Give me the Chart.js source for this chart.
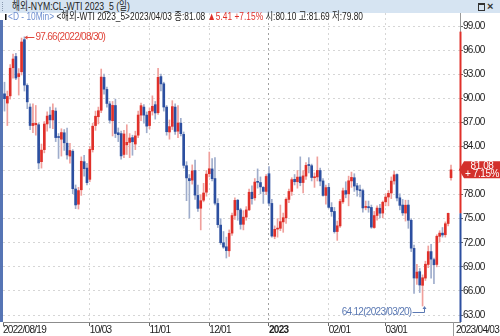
<!DOCTYPE html>
<html lang="ko">
<head>
<meta charset="UTF-8" />
<title>해외-NYM:CL-WTI 2023_5 (일)</title>
<script src="https://cdn.jsdelivr.net/npm/chart.js"></script>
<style>
  html, body { margin: 0; padding: 0; background: #fff; }
  body { width: 500px; height: 336px; position: relative; overflow: hidden;
         font-family: 'Liberation Sans', 'Noto Sans CJK KR', sans-serif; font-size: 10px; }
  canvas { position: absolute; left: 0; top: 0; }
  #titlebar { position: absolute; left: 0; top: 0; width: 500px; height: 13px; background: #d6e4f2; }
  #grip { position: absolute; left: 2px; top: 2px; width: 1px; height: 9px; border-left: 1px dotted #8a9ab0; }
  #ttl { position: absolute; left: 12px; top: 0; line-height: 13px; font-size: 11px; color: #222; white-space: nowrap; transform-origin: 0 50%; }
  #maxbtn { position: absolute; left: 478px; top: 3px; width: 5px; height: 5px; border: 1px solid #333; border-top-width: 2px; }
  #closebtn { position: absolute; left: 487px; top: 0; line-height: 13px; font-size: 11px; font-weight: bold; color: #333; }
  #info { position: absolute; left: 5px; top: 11px; line-height: 11px; font-size: 11px; white-space: nowrap; color: #222; transform-origin: 0 50%; }
  #info .mark { display: inline-block; width: 2px; height: 6px; background: #111; margin-right: 2px; }
  #info .iv { color: #6f8fd0; }
  #info .up { color: #e0302a; }
</style>
</head>
<body>
<canvas id="chart" width="500" height="336"></canvas>
<div id="titlebar"><span id="grip"></span><span id="ttl">해외-NYM:CL-WTI 2023_5 (일)</span><span id="maxbtn"></span><span id="closebtn">×</span></div>
<div id="info"></div>

<script>
// daily candles, 2022/08/19 .. 2023/04/03
const dates = [
  '2022/08/19','2022/08/22','2022/08/23','2022/08/24','2022/08/25','2022/08/26','2022/08/29','2022/08/30','2022/08/31',
  '2022/09/01','2022/09/02','2022/09/06','2022/09/07','2022/09/08','2022/09/09','2022/09/12','2022/09/13','2022/09/14','2022/09/15','2022/09/16','2022/09/19','2022/09/20','2022/09/21','2022/09/22','2022/09/23','2022/09/26','2022/09/27','2022/09/28','2022/09/29','2022/09/30',
  '2022/10/03','2022/10/04','2022/10/05','2022/10/06','2022/10/07','2022/10/10','2022/10/11','2022/10/12','2022/10/13','2022/10/14','2022/10/17','2022/10/18','2022/10/19','2022/10/20','2022/10/21','2022/10/24','2022/10/25','2022/10/26','2022/10/27','2022/10/28','2022/10/31',
  '2022/11/01','2022/11/02','2022/11/03','2022/11/04','2022/11/07','2022/11/08','2022/11/09','2022/11/10','2022/11/11','2022/11/14','2022/11/15','2022/11/16','2022/11/17','2022/11/18','2022/11/21','2022/11/22','2022/11/23','2022/11/25','2022/11/28','2022/11/29','2022/11/30',
  '2022/12/01','2022/12/02','2022/12/05','2022/12/06','2022/12/07','2022/12/08','2022/12/09','2022/12/12','2022/12/13','2022/12/14','2022/12/15','2022/12/16','2022/12/19','2022/12/20','2022/12/21','2022/12/22','2022/12/23','2022/12/27','2022/12/28','2022/12/29','2022/12/30',
  '2023/01/03','2023/01/04','2023/01/05','2023/01/06','2023/01/09','2023/01/10','2023/01/11','2023/01/12','2023/01/13','2023/01/16','2023/01/17','2023/01/18','2023/01/19','2023/01/20','2023/01/23','2023/01/24','2023/01/25','2023/01/26','2023/01/27','2023/01/30','2023/01/31',
  '2023/02/01','2023/02/02','2023/02/03','2023/02/06','2023/02/07','2023/02/08','2023/02/09','2023/02/10','2023/02/13','2023/02/14','2023/02/15','2023/02/16','2023/02/17','2023/02/20','2023/02/21','2023/02/22','2023/02/23','2023/02/24','2023/02/27','2023/02/28',
  '2023/03/01','2023/03/02','2023/03/03','2023/03/06','2023/03/07','2023/03/08','2023/03/09','2023/03/10','2023/03/13','2023/03/14','2023/03/15','2023/03/16','2023/03/17','2023/03/20','2023/03/21','2023/03/22','2023/03/23','2023/03/24','2023/03/27','2023/03/28','2023/03/29','2023/03/30','2023/03/31',
  '2023/04/03'
];

const opens = [
  90.55, 89.40, 90.30, 93.80, 95.20, 92.70, 93.30, 97.30, 91.60,
  88.90, 86.60, 86.70, 86.70, 82.10, 83.60, 86.80, 87.90, 87.30, 88.40, 85.20, 84.90, 85.70, 84.40, 82.80, 83.40, 78.70, 76.80, 78.60, 82.10, 81.30,
  79.90, 83.60, 86.60, 87.70, 88.50, 92.60, 91.10, 89.30, 87.20, 89.10, 85.70, 85.60, 83.00, 84.20, 84.50, 85.10, 84.30, 85.40, 87.90, 88.90, 87.90,
  86.60, 88.40, 89.20, 88.20, 92.70, 91.80, 88.90, 85.80, 86.50, 88.90, 85.90, 86.90, 85.50, 81.60, 80.00, 79.80, 81.00, 77.90, 76.30, 77.30, 78.30,
  80.60, 81.20, 80.00, 76.90, 74.20, 72.00, 71.50, 71.00, 73.20, 75.40, 77.30, 76.10, 74.30, 75.20, 76.10, 78.30, 77.60, 79.60, 79.50, 78.90, 78.40,
  80.60, 76.90, 72.80, 73.70, 73.80, 74.60, 75.10, 77.40, 78.40, 79.90, 79.60, 80.20, 79.50, 80.30, 81.70, 81.60, 80.10, 80.20, 81.00, 79.70, 77.90,
  78.90, 76.40, 75.90, 73.40, 74.10, 77.10, 78.50, 78.10, 79.70, 80.10, 79.10, 78.60, 78.50, 76.40, 76.50, 76.40, 73.90, 75.40, 76.30, 75.70,
  77.10, 77.70, 78.20, 79.70, 80.50, 77.60, 76.70, 75.70, 76.70, 74.80, 71.30, 67.60, 68.40, 66.70, 67.60, 69.30, 70.90, 69.90, 69.30, 72.80, 73.20, 73.00, 74.40,
  80.10
];
const highs = [
  92.00, 90.90, 94.20, 95.50, 95.60, 93.70, 97.50, 97.66, 91.80,
  89.30, 89.30, 89.10, 86.90, 84.30, 87.10, 88.30, 88.90, 89.30, 88.80, 85.60, 86.20, 86.10, 86.30, 84.40, 83.60, 79.20, 78.90, 82.70, 82.90, 81.90,
  84.00, 86.90, 88.40, 88.90, 93.64, 93.00, 91.40, 89.60, 89.60, 89.90, 86.30, 85.90, 86.00, 86.70, 85.60, 85.40, 85.90, 88.40, 89.40, 89.20, 88.30,
  88.80, 90.30, 89.60, 93.74, 93.00, 92.00, 89.10, 87.30, 89.70, 89.30, 89.10, 87.50, 85.80, 82.10, 80.50, 81.70, 82.30, 79.20, 78.00, 79.40, 81.00,
  83.30, 82.50, 82.60, 77.50, 75.00, 73.40, 72.70, 73.60, 75.70, 77.60, 77.40, 76.30, 76.00, 76.50, 78.70, 79.10, 80.00, 81.20, 80.20, 79.00, 80.50,
  81.50, 77.40, 74.10, 75.00, 76.70, 75.70, 77.60, 78.70, 80.10, 80.50, 81.00, 82.70, 81.00, 82.00, 82.60, 81.80, 80.70, 82.70, 81.30, 80.00, 79.20,
  79.40, 77.00, 76.40, 74.70, 77.40, 78.80, 79.60, 80.30, 80.80, 80.60, 79.40, 79.20, 78.70, 77.20, 77.20, 76.70, 75.90, 76.60, 76.80, 77.20,
  78.10, 78.50, 80.20, 80.90, 80.60, 78.10, 77.40, 77.30, 77.30, 75.00, 71.70, 69.30, 68.80, 68.00, 69.70, 71.60, 71.80, 70.10, 73.00, 73.50, 73.90, 74.60, 75.70,
  81.69
];
const lows = [
  88.40, 86.60, 89.90, 92.50, 92.30, 90.40, 92.90, 90.90, 88.70,
  86.10, 85.70, 85.40, 81.20, 81.30, 83.20, 85.90, 86.30, 86.20, 84.60, 82.50, 82.80, 83.50, 82.40, 81.90, 78.10, 76.25, 76.20, 77.90, 80.30, 79.20,
  79.60, 83.30, 86.00, 86.80, 88.20, 90.50, 88.90, 86.90, 85.30, 85.10, 84.60, 82.40, 82.60, 83.00, 82.60, 82.90, 83.60, 85.10, 87.20, 86.90, 85.70,
  86.20, 87.90, 87.40, 88.00, 90.90, 88.40, 85.40, 84.90, 86.10, 85.50, 85.10, 85.30, 81.30, 77.24, 75.08, 79.30, 77.40, 75.90, 73.60, 77.10, 77.80,
  80.20, 79.70, 76.70, 73.90, 71.80, 71.30, 70.10, 70.30, 72.90, 74.90, 74.80, 73.70, 73.60, 74.80, 76.00, 76.80, 77.30, 78.80, 78.10, 76.90, 78.00,
  76.60, 72.70, 72.50, 72.70, 73.50, 73.30, 74.40, 77.00, 77.90, 79.20, 78.80, 79.10, 78.20, 79.90, 80.70, 79.70, 78.90, 79.70, 79.10, 77.80, 76.80,
  76.30, 75.30, 73.20, 72.30, 73.90, 76.90, 77.60, 76.60, 78.90, 78.40, 77.80, 77.70, 75.80, 76.10, 75.80, 73.80, 73.80, 74.80, 75.10, 75.10,
  76.60, 76.60, 77.50, 79.30, 77.20, 76.10, 75.40, 74.70, 73.80, 70.90, 65.70, 66.80, 65.80, 64.12, 67.30, 68.90, 67.60, 66.90, 69.00, 72.10, 72.70, 72.70, 74.10,
  79.80
];
const closes = [
  89.95, 90.23, 93.74, 94.89, 92.52, 93.06, 97.01, 91.64, 89.55,
  86.61, 86.87, 86.88, 81.94, 83.54, 86.79, 87.78, 87.31, 88.48, 85.10, 85.11, 85.73, 84.45, 82.94, 83.49, 78.74, 76.71, 78.50, 82.15, 81.23, 79.49,
  83.63, 86.52, 87.76, 88.45, 92.64, 91.13, 89.35, 87.27, 89.11, 85.61, 85.46, 82.82, 85.55, 84.51, 85.05, 84.58, 85.32, 87.91, 89.08, 87.90, 86.53,
  88.37, 89.00, 88.17, 92.61, 91.79, 88.91, 85.83, 86.47, 88.96, 85.87, 86.92, 85.59, 81.64, 80.08, 79.73, 80.95, 77.94, 76.28, 77.24, 78.20, 80.55,
  81.22, 79.98, 76.93, 74.25, 72.01, 71.46, 71.02, 73.17, 75.39, 77.28, 76.11, 74.29, 75.19, 76.09, 78.29, 77.49, 79.56, 79.53, 78.96, 78.40, 80.26,
  76.93, 72.84, 73.67, 73.77, 74.63, 75.12, 77.41, 78.39, 79.86, 79.60, 80.18, 79.48, 80.33, 81.64, 81.62, 80.13, 80.15, 81.01, 79.68, 77.90, 78.87,
  76.41, 75.88, 73.39, 74.11, 77.14, 78.47, 78.06, 79.72, 80.14, 79.06, 78.59, 78.49, 76.34, 76.50, 76.36, 73.95, 75.39, 76.32, 75.68, 77.05,
  77.69, 78.16, 79.68, 80.46, 77.58, 76.66, 75.72, 76.68, 74.80, 71.33, 67.61, 68.35, 66.74, 67.64, 69.33, 70.90, 69.96, 69.26, 72.81, 73.20, 72.97, 74.37, 75.67,
  81.08
];

const xTickDates = ['2022/10/03', '2022/11/01', '2022/12/01', '2023/01/03', '2023/02/01', '2023/03/01'];
const xTickText  = ['10/03', '11/01', '12/01', '2023', '02/01', '03/01'];
const yTicks = [63, 66, 69, 72, 75, 78, 81, 84, 87, 90, 93, 96, 99];
const yMin = 62.13, yMax = 100.62;
const xMin = -0.53, xMax = 160.16, xEnd = 158.75;
const limitTop = 98.3;   // where the red part of the price axis starts

const FONT = "'Liberation Sans', 'Noto Sans CJK KR', sans-serif";
const UP = '#e0302a', UP_WICK = '#f0a09c', DN = '#2c4fa0', DN_WICK = '#9fadcc';

const last = closes.length - 1;
const prevClose = closes[last - 1];
const change = closes[last] - prevClose;
const pct = change / prevClose * 100;
const isUp = i => closes[i] >= opens[i];
const tickIdx = xTickDates.map(d => dates.indexOf(d));
const edgeTick = c => c.tick && (c.tick.value === xMin || c.tick.value === xEnd);

// header line
const info = document.getElementById('info');
info.innerHTML =
  '<span class="mark"></span><span class="iv">&lt;D - 10Min&gt;</span> ' +
  '&lt;해외-WTI 2023_5&gt;' + dates[last] + ' 종:' + closes[last].toFixed(2) +
  ' <span class="up">▲' + change.toFixed(2) + ' +' + pct.toFixed(2) + '%</span> ' +
  '시:' + opens[last].toFixed(2) + ' 고:' + highs[last].toFixed(2) + ' 저:' + lows[last].toFixed(2);
function fitWidth(el, w) {
  el.style.transform = 'scaleX(' + (w / el.getBoundingClientRect().width) + ')';
}
fitWidth(info, 358);
fitWidth(document.getElementById('ttl'), 118);

const htsDecor = {
  id: 'htsDecor',
  beforeDraw(chart) {
    chart.ctx.letterSpacing = '-0.7px';
  },
  afterDraw(chart) {
    const {ctx, chartArea: a, scales: {x, y}} = chart;
    ctx.save();

    // left selection strip
    ctx.fillStyle = '#5675b5';
    ctx.fillRect(0, 20, 3, a.bottom - 20);

    // price axis line: gray, red above previous close, blue below
    const ax = a.right;
    ctx.lineWidth = 1;
    ctx.strokeStyle = '#9a9a9a';
    ctx.beginPath(); ctx.moveTo(ax + 0.5, a.top); ctx.lineTo(ax + 0.5, a.bottom); ctx.stroke();
    const yLim = y.getPixelForValue(limitTop), yPrev = y.getPixelForValue(prevClose);
    ctx.lineWidth = 2;
    ctx.strokeStyle = UP;
    ctx.beginPath(); ctx.moveTo(ax + 0.5, yLim); ctx.lineTo(ax + 0.5, yPrev); ctx.stroke();
    ctx.strokeStyle = DN;
    ctx.beginPath(); ctx.moveTo(ax + 0.5, yPrev); ctx.lineTo(ax + 0.5, a.bottom); ctx.stroke();

    // separator in the date strip, just left of the last date
    ctx.lineWidth = 1;
    ctx.strokeStyle = '#9a9a9a';
    const sx = Math.floor(x.getPixelForValue(xEnd)) - 1.5;
    ctx.beginPath(); ctx.moveTo(sx, a.bottom); ctx.lineTo(sx, chart.height); ctx.stroke();

    // last price tag
    const py = y.getPixelForValue(closes[last]);
    ctx.fillStyle = '#d3302b';
    ctx.beginPath();
    ctx.moveTo(ax - 1, py);
    ctx.lineTo(ax + 4, py - 8.5);
    ctx.lineTo(chart.width, py - 8.5);
    ctx.lineTo(chart.width, py + 8.5);
    ctx.lineTo(ax + 4, py + 8.5);
    ctx.closePath();
    ctx.fill();
    ctx.fillStyle = '#fff';
    ctx.font = '10px ' + FONT;
    ctx.letterSpacing = '-0.4px';
    ctx.textAlign = 'center';
    ctx.textBaseline = 'middle';
    ctx.fillText(closes[last].toFixed(2), ax + 22, py - 4);
    ctx.fillText('+ ' + pct.toFixed(2) + '%', ax + 22, py + 4.5);
    ctx.letterSpacing = '-0.7px';

    // highest high
    const iMax = highs.indexOf(Math.max(...highs));
    const hx = x.getPixelForValue(iMax), hy = Math.round(y.getPixelForValue(highs[iMax])) + 0.5;
    ctx.strokeStyle = ctx.fillStyle = '#e0463c';
    ctx.beginPath(); ctx.moveTo(hx + 2, hy); ctx.lineTo(hx + 10, hy); ctx.stroke();
    ctx.beginPath(); ctx.moveTo(hx, hy); ctx.lineTo(hx + 3, hy - 2); ctx.lineTo(hx + 3, hy + 2); ctx.closePath(); ctx.fill();
    ctx.textAlign = 'left';
    ctx.fillText(highs[iMax].toFixed(2) + '(' + dates[iMax] + ')', hx + 11, hy);

    // lowest low
    const iMin = lows.indexOf(Math.min(...lows));
    const lx = Math.round(x.getPixelForValue(iMin)) + 0.5, ly = y.getPixelForValue(lows[iMin]);
    const ty = Math.round(ly + 6) + 0.5;
    ctx.strokeStyle = ctx.fillStyle = '#5b79b3';
    ctx.beginPath(); ctx.moveTo(lx - 11, ty); ctx.lineTo(lx + 1, ty); ctx.lineTo(lx + 1, ly + 2); ctx.stroke();
    ctx.beginPath(); ctx.moveTo(lx + 1, ly); ctx.lineTo(lx - 1, ly + 3); ctx.lineTo(lx + 3, ly + 3); ctx.closePath(); ctx.fill();
    ctx.textAlign = 'right';
    ctx.fillText(lows[iMin].toFixed(2) + '(' + dates[iMin] + ')', lx - 12, ty);

    ctx.restore();
  }
};

new Chart(document.getElementById('chart'), {
  type: 'bar',
  data: {
    datasets: [
      {
        label: 'body',
        data: opens.map((o, i) => ({x: i, y: [o, closes[i]]})),
        backgroundColor: opens.map((o, i) => isUp(i) ? UP : DN),
        barThickness: 2,
        minBarLength: 1,
        grouped: false,
        order: 0
      },
      {
        label: 'wick',
        data: lows.map((l, i) => ({x: i, y: [l, highs[i]]})),
        backgroundColor: lows.map((l, i) => isUp(i) ? UP_WICK : DN_WICK),
        barThickness: 1,
        grouped: false,
        order: 1
      }
    ]
  },
  options: {
    responsive: false,
    animation: false,
    layout: { padding: { top: 13, left: 3, right: 0, bottom: 0 } },
    plugins: { legend: { display: false }, tooltip: { enabled: false }, title: { display: false } },
    scales: {
      x: {
        type: 'linear',
        offset: false,
        min: xMin,
        max: xMax,
        afterFit: s => { s.height = 14; s.paddingLeft = 0; s.paddingRight = 0; },
        afterBuildTicks: s => { s.ticks = [xMin, ...tickIdx, xEnd].map(v => ({value: v})); },
        ticks: {
          autoSkip: false,
          maxRotation: 0,
          align: 'start',
          padding: -1,
          color: '#222',
          font: c => ({ family: FONT, size: 10, lineHeight: 1, weight: (c.tick && c.tick.value === tickIdx[3]) ? 'bold' : 'normal' }),
          callback: (v, i, t) => i === 0 ? dates[0] : (i === t.length - 1 ? dates[last] : xTickText[i - 1])
        },
        grid: {
          offset: false,
          color: c => (c.tick && c.tick.value === tickIdx[3]) ? '#a0a0a0' : (edgeTick(c) ? 'rgba(0,0,0,0)' : '#d6d6d6'),
          tickColor: c => (c.tick && c.tick.value === xEnd) ? 'rgba(0,0,0,0)' : '#666',
          tickLength: 4,
          borderDash: [2, 3]
        },
        border: { display: true, color: '#8c8c8c', width: 1, dash: [2, 3] }
      },
      y: {
        type: 'linear',
        position: 'right',
        min: yMin,
        max: yMax,
        afterFit: s => { s.width = 40; s.paddingTop = 0; s.paddingBottom = 0; },
        afterBuildTicks: s => { s.ticks = yTicks.map(v => ({value: v})); },
        ticks: {
          padding: 0,
          color: '#222',
          font: { family: FONT, size: 10 },
          callback: v => v.toFixed(2)
        },
        grid: { color: '#d6d6d6', tickColor: '#666', tickLength: 3, borderDash: [2, 3] },
        border: { display: false, dash: [2, 3] }
      }
    }
  },
  plugins: [htsDecor]
});
</script>
</body>
</html>
